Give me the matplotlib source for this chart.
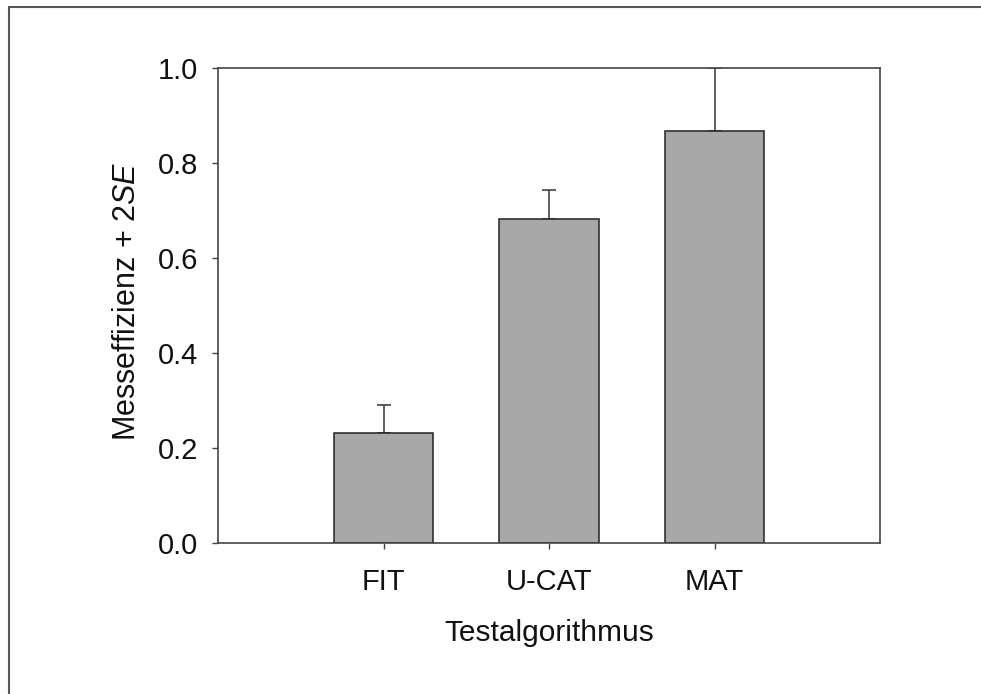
import numpy as np
import matplotlib
matplotlib.use("Agg")
from matplotlib import pyplot as plt
from matplotlib.patches import Rectangle

plt.rcParams['font.family'] = ['Liberation Sans', 'DejaVu Sans']
plt.rcParams['mathtext.fontset'] = 'custom'
plt.rcParams['mathtext.rm'] = 'Liberation Sans'
plt.rcParams['mathtext.it'] = 'Liberation Sans:italic'

# data
categories = ["FIT", "U-CAT", "MAT"]
means = [0.233, 0.683, 0.869]
upper_err = [0.058, 0.060, 0.131]

fig = plt.figure(figsize=(9.81, 6.94), dpi=100)
ax = fig.add_axes([0.2225, 0.2171, 0.6745, 0.6845])

x = np.arange(1, len(categories) + 1)
ax.bar(x, means, width=0.6, color="#a8a8a8", edgecolor="#222222", linewidth=1.1, zorder=2)
ax.errorbar(x, means, yerr=[np.zeros(len(means)), upper_err], fmt="none",
            ecolor="#333333", elinewidth=1.1, capsize=5, capthick=1.1, zorder=1)

ax.set_xlim(0, 4)
ax.set_ylim(0, 1.0)
ax.set_xticks(x)
ax.set_xticklabels(categories)
ax.set_yticks([0.0, 0.2, 0.4, 0.6, 0.8, 1.0])
ax.set_yticklabels(["0.0", "0.2", "0.4", "0.6", "0.8", "1.0"])

for s in ax.spines.values():
    s.set_color("#444444")
    s.set_linewidth(1.2)

ax.tick_params(axis="both", direction="out", length=4.5, width=1.0, color="#444444",
               labelsize=21, labelcolor="#111111")
ax.tick_params(axis="y", pad=10)
ax.tick_params(axis="x", pad=13)

ax.set_xlabel("Testalgorithmus", fontsize=21.5, color="#111111", labelpad=17)
ax.set_ylabel(r"Messeffizienz + 2$\mathit{SE}$", fontsize=22, color="#111111")
ax.yaxis.set_label_coords(-0.116, 0.51)

# outer frame (only top and left edges are visible in the crop)
fig.patches.append(Rectangle((8.5 / 981, -0.1), 1.2, (694 - 7.5) / 694 + 0.1,
                             transform=fig.transFigure, fill=False,
                             edgecolor="#555555", linewidth=1.5))

fig.savefig("out.png", dpi=100)
